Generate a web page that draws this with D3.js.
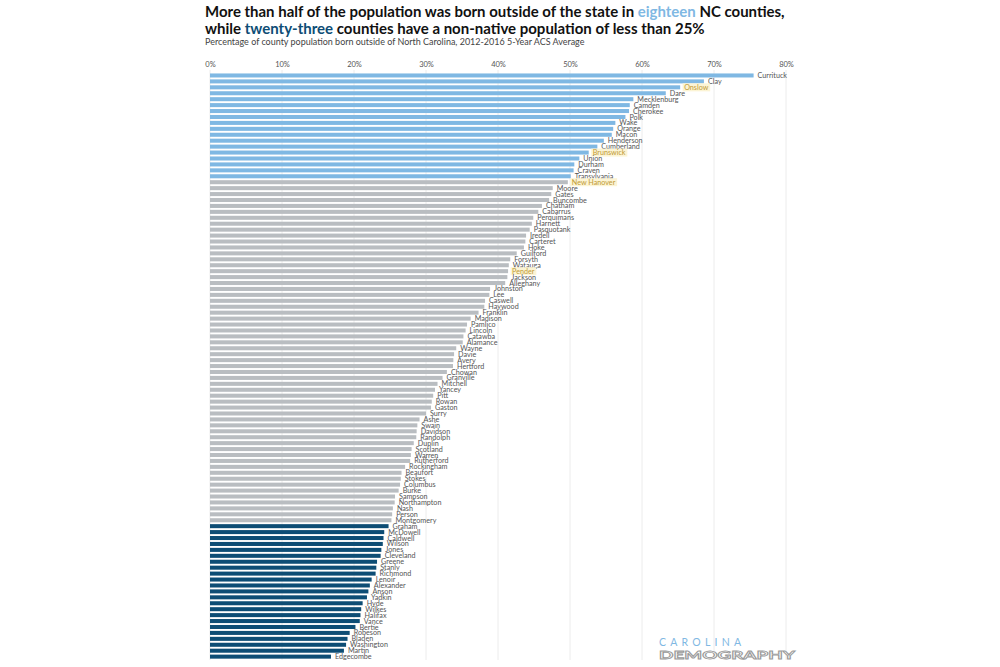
<!DOCTYPE html>
<html>
<head>
<meta charset="utf-8">
<script src="https://d3js.org/d3.v7.min.js"></script>
<style>
  body { margin: 0; background: #fff; }
  svg { display: block; }
</style>
</head>
<body>
<div id="chart"></div>
<script>
// counties sorted by share born outside NC (percent)
const counties = [
  "Currituck","Clay","Onslow","Dare","Mecklenburg","Camden","Cherokee","Polk","Wake","Orange",
  "Macon","Henderson","Cumberland","Brunswick","Union","Durham","Craven","Transylvania","New Hanover","Moore",
  "Gates","Buncombe","Chatham","Cabarrus","Perquimans","Harnett","Pasquotank","Iredell","Carteret","Hoke",
  "Guilford","Forsyth","Watauga","Pender","Jackson","Alleghany","Johnston","Lee","Caswell","Haywood",
  "Franklin","Madison","Pamlico","Lincoln","Catawba","Alamance","Wayne","Davie","Avery","Hertford",
  "Chowan","Granville","Mitchell","Yancey","Pitt","Rowan","Gaston","Surry","Ashe","Swain",
  "Davidson","Randolph","Duplin","Scotland","Warren","Rutherford","Rockingham","Beaufort","Stokes","Columbus",
  "Burke","Sampson","Northampton","Nash","Person","Montgomery","Graham","McDowell","Caldwell","Wilson",
  "Jones","Cleveland","Greene","Stanly","Richmond","Lenoir","Alexander","Anson","Yadkin","Hyde",
  "Wilkes","Halifax","Vance","Bertie","Robeson","Bladen","Washington","Martin","Edgecombe"
];
const pctOutside = [
  75.5,68.6,65.3,63.3,58.8,58.3,58.2,57.7,56.3,56.0,
  55.8,54.7,53.8,52.6,51.3,50.6,50.5,50.1,49.7,47.6,
  47.4,47.1,46.1,45.6,44.9,44.7,44.4,43.9,43.8,43.6,
  42.6,41.7,41.5,41.4,41.3,41.0,38.9,38.8,38.2,38.1,
  37.3,36.2,35.7,35.5,35.2,35.1,34.2,33.9,33.8,33.75,
  32.9,32.3,31.6,31.25,31.0,30.8,30.7,30.0,29.1,28.8,
  28.7,28.65,28.3,28.0,27.9,27.8,27.1,26.6,26.5,26.4,
  26.2,25.7,25.65,25.4,25.3,25.2,24.8,24.2,24.1,24.0,
  23.8,23.7,23.2,23.1,23.0,22.45,22.2,22.0,21.8,21.2,
  21.0,20.9,20.8,20.2,19.4,19.1,18.9,18.6,16.8
];
// coastal counties whose labels are highlighted
const highlighted = ["Onslow","Brunswick","New Hanover","Pender"];
const xTicks = [0, 10, 20, 30, 40, 50, 60, 70, 80];

const data = counties.map((name, i) => ({ name, pct: pctOutside[i] }));

const width = 1000;
const height = 667;

const svg = d3.select("#chart").append("svg")
  .attr("width", width)
  .attr("height", height);

const x = d3.scaleLinear().domain([0, 80]).range([210, 786]);
const y = d3.scaleBand()
  .domain(counties)
  .range([72.5, 659.6])
  .paddingInner(0.32)
  .paddingOuter(0.16);

const barColor = d => d.pct >= 50 ? "#7fb8e3" : (d.pct < 25 ? "#0d4d75" : "#b9bdc1");

// gridlines
svg.append("g")
  .selectAll("line")
  .data(xTicks)
  .join("line")
  .attr("x1", d => x(d))
  .attr("x2", d => x(d))
  .attr("y1", 70)
  .attr("y2", 660)
  .attr("stroke", "#ececec")
  .attr("stroke-width", 1);

// top axis labels
const axis = svg.append("g")
  .attr("transform", "translate(0,67)")
  .call(d3.axisTop(x).tickValues(xTicks).tickFormat(d => d + "%").tickSize(0).tickPadding(0));
axis.select(".domain").remove();
axis.selectAll("text")
  .style("font-family", "Lato, 'Noto Sans', sans-serif")
  .style("font-size", "7.5px")
  .attr("fill", "#555");

// bars
svg.append("g")
  .selectAll("rect")
  .data(data)
  .join("rect")
  .attr("x", x(0))
  .attr("y", d => y(d.name))
  .attr("width", d => x(d.pct) - x(0))
  .attr("height", y.bandwidth())
  .attr("fill", barColor);

// county labels at bar ends
const labels = svg.append("g")
  .selectAll("g")
  .data(data)
  .join("g")
  .attr("transform", d => `translate(${x(d.pct) + 4},${y(d.name) + y.bandwidth() / 2})`);

labels.filter(d => highlighted.includes(d.name))
  .append("rect")
  .attr("class", "hl");

labels.append("text")
  .attr("dy", "0.35em")
  .style("font-family", "Lato, 'Noto Sans', sans-serif")
  .style("font-size", "7.2px")
  .attr("fill", d => highlighted.includes(d.name) ? "#c09a34" : "#555")
  .text(d => d.name);

labels.select("rect.hl").each(function () {
  const t = d3.select(this.parentNode).select("text").node().getBBox();
  d3.select(this)
    .attr("x", t.x - 1.5)
    .attr("y", t.y + 0.5)
    .attr("width", t.width + 3)
    .attr("height", t.height - 1)
    .attr("fill", "#fcf4d4");
});

// title lines, scaled to the width they take in the picture
const fitText = (sel, targetWidth, baseSize) => {
  const w = sel.node().getComputedTextLength();
  sel.style("font-size", (baseSize * targetWidth / w) + "px");
};

const title1 = svg.append("text")
  .attr("x", 205).attr("y", 17)
  .style("font-family", "Lato, 'Noto Sans', sans-serif")
  .style("font-weight", "bold")
  .style("font-size", "15px")
  .attr("fill", "#111");
title1.append("tspan").text("More than half of the population was born outside of the state in ");
title1.append("tspan").attr("fill", "#7fb8e3").text("eighteen");
title1.append("tspan").text(" NC counties,");
fitText(title1, 580, 15);

const title2 = svg.append("text")
  .attr("x", 205).attr("y", 34)
  .style("font-family", "Lato, 'Noto Sans', sans-serif")
  .style("font-weight", "bold")
  .style("font-size", "15px")
  .attr("fill", "#111");
title2.append("tspan").text("while ");
title2.append("tspan").attr("fill", "#0d4d75").text("twenty-three");
title2.append("tspan").text(" counties have a non-native population of less than 25%");
fitText(title2, 500, 15);

const subtitle = svg.append("text")
  .attr("x", 205).attr("y", 45)
  .style("font-family", "Lato, 'Noto Sans', sans-serif")
  .style("font-size", "9px")
  .attr("fill", "#444")
  .text("Percentage of county population born outside of North Carolina, 2012-2016 5-Year ACS Average");
fitText(subtitle, 380, 9);

// logo
svg.append("text")
  .attr("x", 659).attr("y", 646)
  .attr("textLength", 82)
  .attr("lengthAdjust", "spacing")
  .style("font-family", "Lato, 'Noto Sans', sans-serif")
  .style("font-size", "10.5px")
  .attr("fill", "#7fb8e3")
  .text("CAROLINA");

svg.append("text")
  .attr("x", 659).attr("y", 659)
  .attr("textLength", 136)
  .attr("lengthAdjust", "spacingAndGlyphs")
  .style("font-family", "Lato, 'Noto Sans', sans-serif")
  .style("font-weight", "bold")
  .style("font-size", "11.5px")
  .attr("fill", "#fff")
  .attr("stroke", "#9a9a9a")
  .attr("stroke-width", 0.8)
  .text("DEMOGRAPHY");
</script>
</body>
</html>
